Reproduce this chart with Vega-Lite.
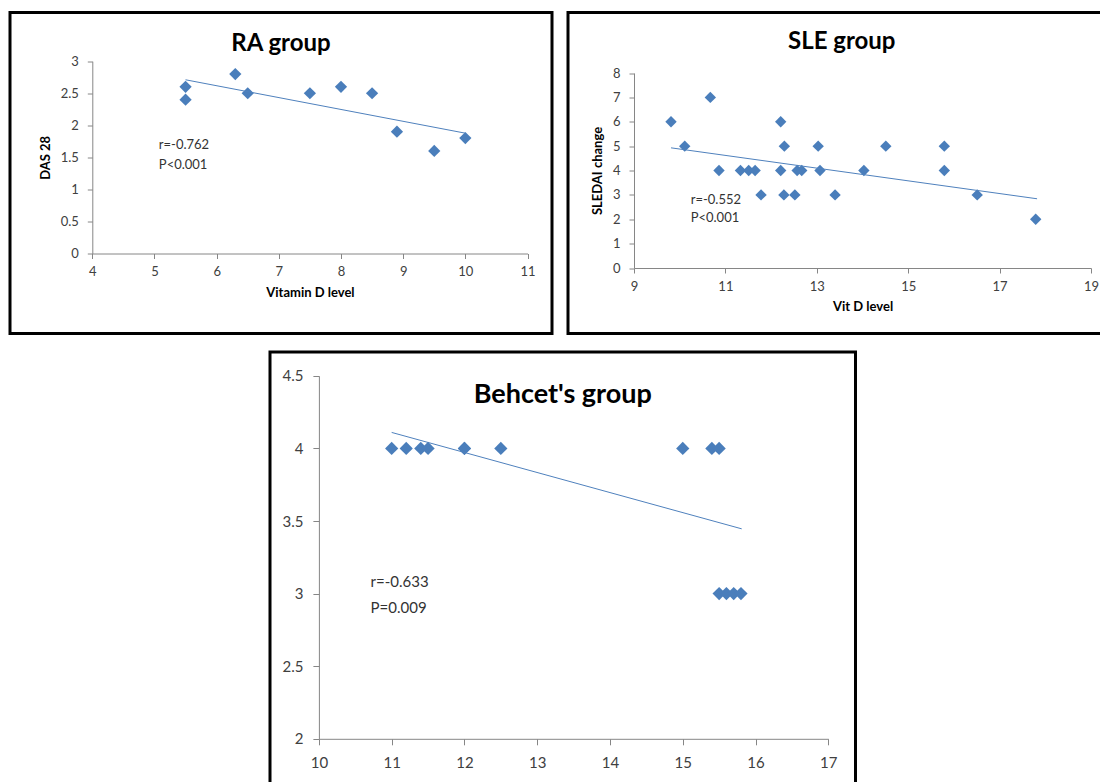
{
  "$schema": "https://vega.github.io/schema/vega-lite/v6.json",
  "background": "white",
  "padding": {"left": 8, "top": 10.5, "right": 0, "bottom": 0},
  "datasets": {
    "ra": [
      {"vitD": 5.5, "score": 2.6}, {"vitD": 5.5, "score": 2.4}, {"vitD": 6.3, "score": 2.8},
      {"vitD": 6.5, "score": 2.5}, {"vitD": 7.5, "score": 2.5}, {"vitD": 8.0, "score": 2.6},
      {"vitD": 8.5, "score": 2.5}, {"vitD": 8.9, "score": 1.9}, {"vitD": 9.5, "score": 1.6},
      {"vitD": 10.0, "score": 1.8}
    ],
    "raTrend": [{"vitD": 5.5, "score": 2.71}, {"vitD": 10.0, "score": 1.877}],
    "raNote": [{"label": "r=-0.762\nP<0.001"}],
    "sle": [
      {"vitD": 9.81, "score": 6}, {"vitD": 10.11, "score": 5}, {"vitD": 10.67, "score": 7},
      {"vitD": 10.86, "score": 4}, {"vitD": 11.33, "score": 4}, {"vitD": 11.51, "score": 4},
      {"vitD": 11.65, "score": 4}, {"vitD": 11.78, "score": 3}, {"vitD": 12.21, "score": 6},
      {"vitD": 12.21, "score": 4}, {"vitD": 12.29, "score": 5}, {"vitD": 12.28, "score": 3},
      {"vitD": 12.52, "score": 3}, {"vitD": 12.57, "score": 4}, {"vitD": 12.67, "score": 4},
      {"vitD": 13.03, "score": 5}, {"vitD": 13.07, "score": 4}, {"vitD": 13.4, "score": 3},
      {"vitD": 14.03, "score": 4}, {"vitD": 14.51, "score": 5}, {"vitD": 15.79, "score": 5},
      {"vitD": 15.79, "score": 4}, {"vitD": 16.51, "score": 3}, {"vitD": 17.79, "score": 2}
    ],
    "sleTrend": [{"vitD": 9.81, "score": 4.93}, {"vitD": 17.82, "score": 2.84}],
    "sleNote": [{"label": "r=-0.552\nP<0.001"}],
    "behcet": [
      {"vitD": 11.0, "score": 4}, {"vitD": 11.2, "score": 4}, {"vitD": 11.4, "score": 4},
      {"vitD": 11.5, "score": 4}, {"vitD": 12.0, "score": 4}, {"vitD": 12.0, "score": 4},
      {"vitD": 12.5, "score": 4}, {"vitD": 15.0, "score": 4}, {"vitD": 15.4, "score": 4},
      {"vitD": 15.5, "score": 4}, {"vitD": 15.5, "score": 3}, {"vitD": 15.6, "score": 3},
      {"vitD": 15.7, "score": 3}, {"vitD": 15.8, "score": 3}
    ],
    "behcetTrend": [{"vitD": 11.0, "score": 4.11}, {"vitD": 15.81, "score": 3.446}],
    "behcetNote": [{"label": "r=-0.633\nP=0.009"}]
  },
  "config": {
    "font": "Lato",
    "axis": {
      "grid": false, "domainColor": "#868686", "tickColor": "#868686", "domainWidth": 1, "tickWidth": 1,
      "labelFont": "Lato", "labelColor": "#404040", "titleFont": "Lato", "titleFontWeight": "bold",
      "titleColor": "#000000", "labelFlush": false, "labelOverlap": false
    },
    "title": {"font": "Lato", "fontWeight": "bold", "color": "#000000", "anchor": "middle", "frame": "group"}
  },
  "spacing": 14.5,
  "center": true,
  "vconcat": [
    {
      "spacing": 12,
      "hconcat": [
        {
          "width": 542, "height": 321,
          "view": {"stroke": "#000000", "strokeWidth": 3, "fill": "white"},
          "title": {"text": "RA group", "fontSize": 24, "offset": -43},
          "layer": [
            {"data": {"name": "ra"}, "mark": {"type": "point", "shape": "diamond", "filled": true, "size": 150, "color": "#4A7EBB", "opacity": 1},
              "encoding": {
                "x": {"field": "vitD", "type": "quantitative",
                  "scale": {"domain": [4, 11], "range": [82.3, 517.5], "nice": false, "zero": false},
                  "axis": {"values": [4, 5, 6, 7, 8, 9, 10, 11], "offset": -80, "title": "Vitamin D level", "format": "~g",
                    "tickSize": 5, "labelPadding": 7, "labelFontSize": 13, "titleFontSize": 13, "titlePadding": 8}},
                "y": {"field": "score", "type": "quantitative",
                  "scale": {"domain": [0, 3], "range": [241, 48.7], "nice": false, "zero": false},
                  "axis": {"values": [0, 0.5, 1, 1.5, 2, 2.5, 3], "offset": -82.3, "title": "DAS 28", "format": "~g",
                    "tickSize": 5, "labelPadding": 9, "labelFontSize": 13, "titleFontSize": 13, "titlePadding": 8}}
              }},
            {"data": {"name": "raTrend"}, "mark": {"type": "line", "color": "#4F81BD", "strokeWidth": 1},
              "encoding": {
                "x": {"field": "vitD", "type": "quantitative", "title": "Vitamin D level"},
                "y": {"field": "score", "type": "quantitative", "title": "DAS 28"}
              }},
            {"data": {"name": "raNote"}, "mark": {"type": "text", "align": "left", "baseline": "middle", "fontSize": 13, "lineHeight": 20, "lineBreak": "\n", "color": "#333333"},
              "encoding": {
                "x": {"datum": 5.07, "type": "quantitative", "title": "Vitamin D level"},
                "y": {"datum": 1.696, "type": "quantitative", "title": "DAS 28"},
                "text": {"field": "label", "type": "nominal"}
              }}
          ]
        },
        {
          "width": 547.5, "height": 321,
          "view": {"stroke": "#000000", "strokeWidth": 3, "fill": "white"},
          "title": {"text": "SLE group", "fontSize": 24, "offset": -41},
          "layer": [
            {"data": {"name": "sle"}, "mark": {"type": "point", "shape": "diamond", "filled": true, "size": 130, "color": "#4A7EBB", "opacity": 1},
              "encoding": {
                "x": {"field": "vitD", "type": "quantitative",
                  "scale": {"domain": [9, 19], "range": [66, 523], "nice": false, "zero": false},
                  "axis": {"values": [9, 11, 13, 15, 17, 19], "offset": -65.5, "title": "Vit D level", "format": "~g",
                    "tickSize": 5, "labelPadding": 7, "labelFontSize": 13, "titleFontSize": 13, "titlePadding": 7}},
                "y": {"field": "score", "type": "quantitative",
                  "scale": {"domain": [0, 8], "range": [255.5, 60.5], "nice": false, "zero": false},
                  "axis": {"values": [0, 1, 2, 3, 4, 5, 6, 7, 8], "offset": -66, "title": "SLEDAI change", "format": "~g",
                    "tickSize": 5, "labelPadding": 9, "labelFontSize": 13, "titleFontSize": 13, "titlePadding": 8}}
              }},
            {"data": {"name": "sleTrend"}, "mark": {"type": "line", "color": "#4F81BD", "strokeWidth": 1},
              "encoding": {
                "x": {"field": "vitD", "type": "quantitative", "title": "Vit D level"},
                "y": {"field": "score", "type": "quantitative", "title": "SLEDAI change"}
              }},
            {"data": {"name": "sleNote"}, "mark": {"type": "text", "align": "left", "baseline": "middle", "fontSize": 13, "lineHeight": 18, "lineBreak": "\n", "color": "#333333"},
              "encoding": {
                "x": {"datum": 10.24, "type": "quantitative", "title": "Vit D level"},
                "y": {"datum": 2.8, "type": "quantitative", "title": "SLEDAI change"},
                "text": {"field": "label", "type": "nominal"}
              }}
          ]
        }
      ]
    },
    {
      "width": 585.5, "height": 434,
      "view": {"stroke": "#000000", "strokeWidth": 3, "fill": "white"},
      "title": {"text": "Behcet's group", "fontSize": 27, "offset": -57},
      "layer": [
        {"data": {"name": "behcet"}, "mark": {"type": "point", "shape": "diamond", "filled": true, "size": 175, "color": "#4A7EBB", "opacity": 1},
          "encoding": {
            "x": {"field": "vitD", "type": "quantitative",
              "scale": {"domain": [10, 17], "range": [48.9, 558.3], "nice": false, "zero": false},
              "axis": {"values": [10, 11, 12, 13, 14, 15, 16, 17], "offset": -47.2, "title": null, "format": "~g",
                "tickSize": 6, "labelPadding": 11, "labelFontSize": 15}},
            "y": {"field": "score", "type": "quantitative",
              "scale": {"domain": [2, 4.5], "range": [386.8, 23.8], "nice": false, "zero": false},
              "axis": {"values": [2, 2.5, 3, 3.5, 4, 4.5], "offset": -48.9, "title": null, "format": "~g",
                "tickSize": 6, "labelPadding": 10, "labelFontSize": 15}}
          }},
        {"data": {"name": "behcetTrend"}, "mark": {"type": "line", "color": "#4F81BD", "strokeWidth": 1},
          "encoding": {
            "x": {"field": "vitD", "type": "quantitative", "title": null},
            "y": {"field": "score", "type": "quantitative", "title": null}
          }},
        {"data": {"name": "behcetNote"}, "mark": {"type": "text", "align": "left", "baseline": "middle", "fontSize": 15, "lineHeight": 26, "lineBreak": "\n", "color": "#333333"},
          "encoding": {
            "x": {"datum": 10.71, "type": "quantitative", "title": null},
            "y": {"datum": 3.079, "type": "quantitative", "title": null},
            "text": {"field": "label", "type": "nominal"}
          }}
      ]
    }
  ]
}
